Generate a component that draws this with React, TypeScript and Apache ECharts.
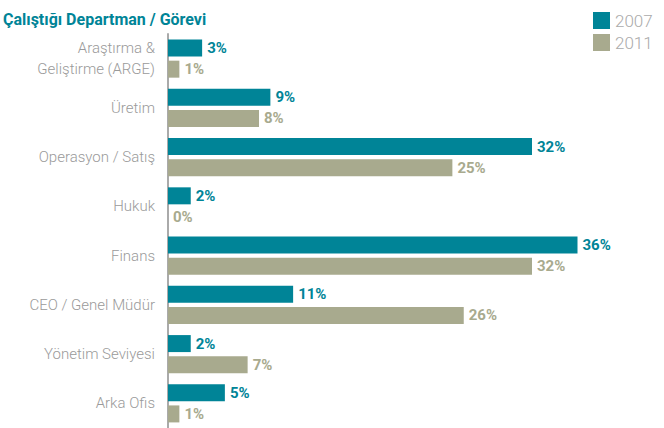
import React, { useEffect, useRef } from "react";
import * as echarts from "echarts";

const categories = [
  "Araştırma &\nGeliştirme (ARGE)",
  "Üretim",
  "Operasyon / Satış",
  "Hukuk",
  "Finans",
  "CEO / Genel Müdür",
  "Yönetim Seviyesi",
  "Arka Ofis",
];
const values2007 = [3, 9, 32, 2, 36, 11, 2, 5];
const values2011 = [1, 8, 25, 0, 32, 26, 7, 1];
const seriesNames = ["2007", "2011"];
const title = "Çalıştığı Departman / Görevi";

const TEAL = "#008497";
const OLIVE = "#A8AA8E";
const FONT = "Roboto";

export default function App() {
  const ref = useRef<HTMLDivElement>(null);
  useEffect(() => {
    const chart = echarts.init(ref.current!, null, { renderer: "svg" });
    const mkLabel = (color: string) => ({
      show: true,
      position: "right",
      distance: 5,
      formatter: "{c}%",
      color,
      fontWeight: "bold",
      fontSize: 15,
      fontFamily: FONT,
    });
    chart.setOption({
      animation: false,
      backgroundColor: "#ffffff",
      title: {
        text: title,
        left: -2,
        top: 6,
        textStyle: { color: TEAL, fontSize: 16, fontWeight: "bold", fontFamily: FONT },
      },
      legend: {
        orient: "vertical",
        left: 588,
        top: 7,
        itemWidth: 17,
        itemHeight: 17,
        itemGap: 5,
        icon: "rect",
        textStyle: { color: "#aaaaaa", fontSize: 17, fontWeight: 300, fontFamily: FONT },
        data: seriesNames,
      },
      grid: { left: 168, top: 34, width: 455, height: 394, containLabel: false },
      xAxis: {
        type: "value",
        min: 0,
        max: 40,
        show: false,
      },
      yAxis: {
        type: "category",
        data: categories,
        inverse: true,
        axisLine: { show: true, lineStyle: { color: "#aaaaaa", width: 2 } },
        axisTick: { show: false },
        axisLabel: {
          color: "#9a9a9a",
          fontSize: 15,
          fontWeight: 300,
          fontFamily: FONT,
          margin: 13,
          lineHeight: 21,
          align: "right",
        },
      },
      series: [
        {
          name: seriesNames[0],
          type: "bar",
          data: values2007,
          barWidth: 17,
          barGap: "24%",
          itemStyle: { color: TEAL },
          label: mkLabel(TEAL),
        },
        {
          name: seriesNames[1],
          type: "bar",
          data: values2011,
          barWidth: 17,
          itemStyle: { color: OLIVE },
          label: mkLabel(OLIVE),
        },
      ],
    });
    return () => chart.dispose();
  }, []);
  return (
    <div
      ref={ref}
      style={{ position: "fixed", left: 0, top: 0, width: 664, height: 428 }}
    />
  );
}
